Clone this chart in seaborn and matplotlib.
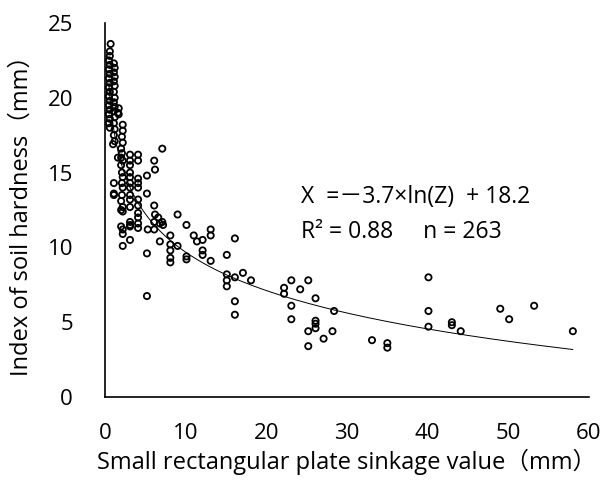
import numpy as np
import pandas as pd
import seaborn as sns
import matplotlib
matplotlib.use("Agg")
import matplotlib.pyplot as plt

# ---- data ----
sinkage_mm = [
    # dense column near 0.5
    0.7, 0.6, 0.6, 0.5, 0.6, 0.5, 0.6, 0.5, 0.6, 0.5, 0.6, 0.5, 0.6, 0.5, 0.6, 0.5, 0.6, 0.5, 0.6,
    # column near 1.1
    1.1, 1.2, 1.1, 1.2, 1.1, 1.2, 1.1, 1.2, 1.1, 1.2, 1.1, 1.2, 1.1, 1.2, 1.1, 1.2, 1.0, 1.1, 1.1, 1.1,
    # column near 1.6
    1.7, 1.6, 1.7, 1.6,
    # column near 2.1
    2.2, 2.2, 2.1, 2.2, 2.0, 2.1, 2.0, 2.2, 2.0, 2.1, 2.2, 2.1, 2.2, 2.1, 2.0, 2.2, 2.0, 2.2, 2.2, 2.0, 2.2, 2.2,
    # column near 3.1
    3.1, 3.1, 3.1, 3.1, 3.1, 3.1, 3.1, 3.1, 3.1, 3.1, 3.1, 3.1, 3.1, 3.1,
    # column near 4.1
    4.1, 4.1, 4.1, 4.1, 4.1, 4.1, 4.1, 4.1, 4.1, 4.1, 4.1,
    5.2, 5.2, 5.3, 5.2, 5.2,
    6.1, 6.2, 6.1, 6.2, 6.1, 6.1,
    6.6, 6.8, 7.1, 7.2, 6.8, 7.1,
    8.1, 8.1, 8.1, 8.1, 8.1,
    9.0, 9.0,
    10.1, 10.1, 10.1,
    11.0, 11.4, 12.1, 12.1, 12.1,
    13.1, 13.1, 13.1,
    15.1, 15.1, 15.1, 15.1,
    16.1, 16.1, 16.1, 16.1,
    17.1, 18.1,
    22.2, 22.2,
    23.1, 23.1, 23.1,
    24.2, 25.2, 26.1,
    26.1, 26.1, 26.1,
    25.2, 28.2, 27.1, 25.2, 28.4,
    33.1, 35.0, 35.0,
    40.1, 40.1, 40.1,
    43.0, 43.0, 44.1,
    49.0, 50.1, 53.2, 58.0,
]
hardness_mm = [
    23.6, 23.1, 22.8, 22.5, 22.2, 21.9, 21.6, 21.3, 21.0, 20.7, 20.4, 20.1, 19.8, 19.5, 19.2, 18.9, 18.6, 18.3, 18.0,
    22.3, 22.0, 21.7, 21.4, 21.1, 20.8, 20.4, 20.0, 19.7, 19.4, 19.1, 18.7, 18.3, 17.9, 17.5, 17.1, 16.9, 14.3, 13.5, 13.6,
    19.3, 19.0, 18.9, 16.0,
    18.2, 17.8, 17.4, 17.0, 16.6, 16.3, 16.0, 15.8, 15.5, 15.0, 14.7, 14.3, 14.0, 13.5, 13.1, 12.7, 12.5, 12.4, 11.2, 11.4, 10.9, 10.1,
    16.2, 15.8, 15.5, 15.0, 14.7, 14.3, 14.0, 13.5, 13.2, 12.7, 11.7, 11.5, 11.4, 10.5,
    16.2, 15.8, 14.6, 14.3, 14.0, 13.2, 12.8, 12.3, 12.0, 11.6, 11.3,
    14.8, 13.6, 11.2, 9.6, 6.75,
    15.8, 15.2, 12.8, 12.2, 11.7, 11.2,
    12.0, 11.6, 11.7, 11.5, 10.4, 16.6,
    10.8, 10.2, 9.8, 9.3, 9.0,
    12.2, 10.1,
    11.5, 9.4, 9.2,
    10.8, 10.4, 10.5, 9.8, 9.5,
    11.2, 10.8, 9.1,
    9.5, 8.2, 7.8, 7.4,
    10.6, 8.0, 6.4, 5.5,
    8.3, 7.8,
    7.3, 6.9,
    7.8, 6.1, 5.2,
    7.2, 7.8, 6.6,
    5.1, 4.9, 4.6,
    4.4, 4.4, 3.9, 3.4, 5.75,
    3.8, 3.6, 3.3,
    8.0, 5.75, 4.7,
    5.0, 4.8, 4.4,
    5.9, 5.2, 6.1, 4.4,
]

# fitted logarithmic trend: X = a*ln(Z) + b
fit_a = -3.7
fit_b = 18.2
x_ticks = [0, 10, 20, 30, 40, 50, 60]
y_ticks = [0, 5, 10, 15, 20, 25]

df = pd.DataFrame({"Z": sinkage_mm, "X": hardness_mm})

sns.set_theme(style="white")
plt.rcParams["font.family"] = ["Open Sans", "Noto Sans CJK JP", "DejaVu Sans"]

fig = plt.figure(figsize=(6.02, 4.82), dpi=100)
ax = fig.add_axes([0.1744, 0.1763, 0.804, 0.776])

sns.scatterplot(data=df, x="Z", y="X", ax=ax, marker="o", s=20,
                facecolors="none", edgecolor="black", linewidth=1.3, zorder=3)

z_line = np.linspace(min(sinkage_mm), max(sinkage_mm), 400)
trend = pd.DataFrame({"Z": z_line, "X": fit_a * np.log(z_line) + fit_b})
sns.lineplot(data=trend, x="Z", y="X", ax=ax, color="black", linewidth=0.7, zorder=2)

ax.set_xlim(0, 60)
ax.set_ylim(0, 25)
ax.set_xticks(x_ticks)
ax.set_yticks(y_ticks)
ax.tick_params(axis="both", length=0, labelsize=16, colors="black")
ax.tick_params(axis="x", pad=19)
ax.tick_params(axis="y", pad=23)
for s in ["top", "right"]:
    ax.spines[s].set_visible(False)
for s in ["left", "bottom"]:
    ax.spines[s].set_color("black")
    ax.spines[s].set_linewidth(1.2)

ax.set_xlabel("Small rectangular plate sinkage value（mm）", fontsize=17, color="black", labelpad=3)
ax.set_ylabel("Index of soil hardness（mm）", fontsize=17, color="black", labelpad=10)

ax.text(0.405, 0.535, "X  =－3.7×ln(Z)  + 18.2", transform=ax.transAxes,
        fontsize=16.5, color="black", va="center", ha="left")
ax.text(0.405, 0.441, "R² = 0.88     n = 263", transform=ax.transAxes,
        fontsize=16.5, color="black", va="center", ha="left")

fig.savefig("out.png", dpi=100)
